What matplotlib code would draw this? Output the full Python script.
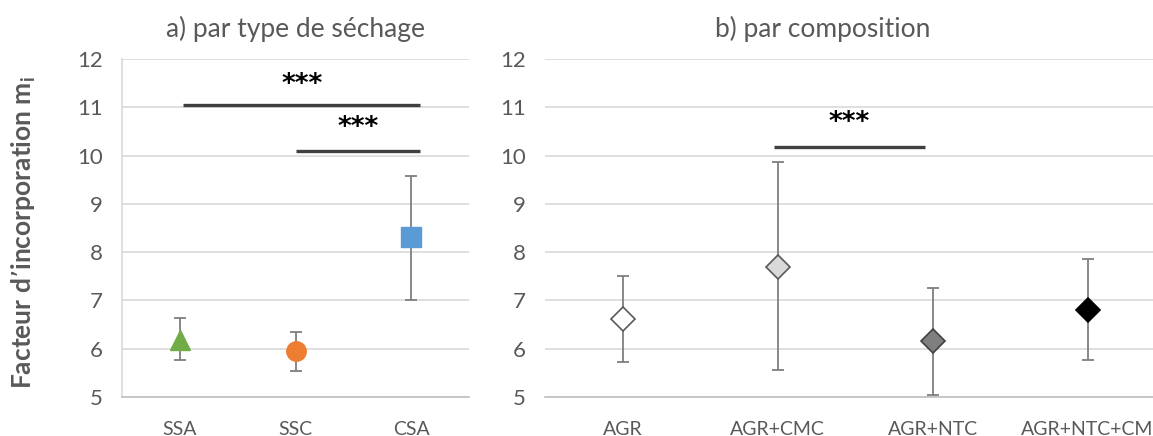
import matplotlib
matplotlib.use("Agg")
import matplotlib.pyplot as plt

plt.rcParams['font.family'] = ['Lato', 'DejaVu Sans']

# Panel a) by drying type
cats_a = ["SSA", "SSC", "CSA"]
vals_a = [6.18, 5.95, 8.31]
low_a = [5.77, 5.54, 7.01]
high_a = [6.64, 6.35, 9.58]
markers_a = ["^", "o", "s"]
colors_a = ["#70ad47", "#ed7d31", "#5b9bd5"]

# Panel b) by composition
cats_b = ["AGR", "AGR+CMC", "AGR+NTC", "AGR+NTC+CM"]
vals_b = [6.62, 7.70, 6.15, 6.81]
low_b = [5.73, 5.55, 5.04, 5.77]
high_b = [7.50, 9.87, 7.25, 7.85]
colors_b = ["#ffffff", "#d9d9d9", "#7f7f7f", "#000000"]
edges_b = ["#595959", "#595959", "#404040", "#000000"]

# significance bars: (start idx, end idx, y, star y)
sig_a = [(0.03, 2.08, 11.05, 11.47), (1.0, 2.08, 10.09, 10.57)]
sig_b = [(0.98, 1.95, 10.18, 10.67)]

W, H = 1153, 436
fig = plt.figure(figsize=(W/100, H/100), dpi=100)
axA = fig.add_axes([122/W, 39/H, 347/W, 338/H])
axB = fig.add_axes([545/W, 39/H, 620/W, 338/H])

tick_col = "#595959"
for ax, n in ((axA, 3), (axB, 4)):
    ax.set_ylim(5, 12)
    ax.set_xlim(-0.5, n - 0.5)
    ax.set_yticks(range(5, 13))
    ax.grid(axis='y', color='#d9d9d9', linewidth=1.2)
    ax.set_axisbelow(True)
    for s in ("top", "right"):
        ax.spines[s].set_visible(False)
    ax.spines['bottom'].set_color('#bfbfbf')
    ax.spines['bottom'].set_linewidth(1.2)
    ax.tick_params(axis='both', length=0, labelcolor=tick_col)
    ax.tick_params(axis='y', pad=14, labelsize=16)
    ax.tick_params(axis='x', pad=17, labelsize=14)

axA.spines['left'].set_color('#d9d9d9')
axA.spines['left'].set_linewidth(1.2)
axB.spines['left'].set_visible(False)

for i, (v, lo, hi, m, c) in enumerate(zip(vals_a, low_a, high_a, markers_a, colors_a)):
    axA.errorbar(i, v, yerr=[[v - lo], [hi - v]], fmt='none', ecolor='#7f7f7f',
                 elinewidth=1.3, capsize=4, capthick=1.3, zorder=2)
    axA.plot(i, v, marker=m, color=c, markersize=14, markeredgecolor=c, zorder=3, linestyle='none')
axA.set_xticks(range(len(cats_a)))
axA.set_xticklabels(cats_a)

for i, (v, lo, hi, c, e) in enumerate(zip(vals_b, low_b, high_b, colors_b, edges_b)):
    axB.errorbar(i, v, yerr=[[v - lo], [hi - v]], fmt='none', ecolor='#7f7f7f',
                 elinewidth=1.3, capsize=4, capthick=1.3, zorder=2)
    axB.plot(i, v, marker='D', color=c, markersize=12, markeredgecolor=e,
             markeredgewidth=1.2, zorder=3, linestyle='none')
axB.set_xticks(range(len(cats_b)))
axB.set_xticklabels(cats_b)
# keep the last (edge) label inside the figure
axB.get_xticklabels()[-1].set_horizontalalignment('center')
axB.get_xticklabels()[-1].set_x(2.97)

for ax, sigs in ((axA, sig_a), (axB, sig_b)):
    for x0, x1, y, ys in sigs:
        ax.plot([x0, x1], [y, y], color='#404040', linewidth=2.4, solid_capstyle='butt', zorder=4)
        ax.text((x0 + x1) / 2, ys, "***", ha='center', va='center', fontsize=19,
                fontweight='bold', color='black', family=['DejaVu Sans'])

fig.text(295/W, 1 - 29/H, "a) par type de séchage", ha='center', va='center',
         fontsize=19, color=tick_col)
fig.text(823/W, 1 - 29/H, "b) par composition", ha='center', va='center',
         fontsize=19, color=tick_col)
fig.text(24/W, 0.5 - 14/H, "Facteur d’incorporation m$_\\mathregular{i}$", rotation=90,
         ha='center', va='center', fontsize=19, fontweight='bold', color=tick_col)

fig.savefig("out.png", dpi=100)
